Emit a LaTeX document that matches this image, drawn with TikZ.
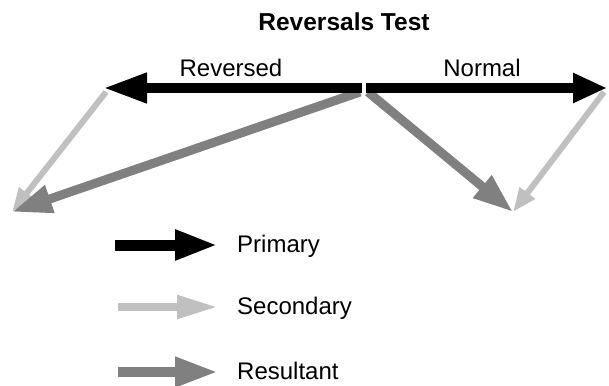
\documentclass[tikz,border=0pt]{standalone}
\usepackage{fontspec}
\setmainfont{Liberation Sans}
\usetikzlibrary{arrows.meta}
\definecolor{secgray}{HTML}{C0C0C0}
\definecolor{resgray}{HTML}{808080}
\tikzset{
  primarr/.style={draw=black, line width=10pt, -{Triangle[length=44pt,width=28pt]}},
  primarrn/.style={draw=black, line width=10pt, -{Triangle[length=34pt,width=28pt]}},
  secarr/.style={draw=secgray, line width=6pt, -{Triangle[length=24pt,width=18pt]}},
  resarr/.style={draw=resgray, line width=9pt, -{Triangle[length=40pt,width=27pt]}},
  legprim/.style={draw=black, line width=11pt, -{Triangle[length=43pt,width=28pt]}},
  legsec/.style={draw=secgray, line width=8pt, -{Triangle[length=41pt,width=22pt]}},
  legres/.style={draw=resgray, line width=10pt, -{Triangle[length=43pt,width=28pt]}},
  lbl/.style={inner sep=0pt, font=\fontsize{24pt}{28pt}\selectfont},
  ttl/.style={inner sep=0pt, font=\fontsize{24.5pt}{29pt}\selectfont\bfseries},
}
\begin{document}
\begin{tikzpicture}[x=1pt,y=-1pt]
\useasboundingbox (0,0) rectangle (609,385);
% coordinates
\coordinate (revstart) at (362,88);
\coordinate (revtip) at (103,88);
\coordinate (normstart) at (366,88);
\coordinate (normtip) at (607,88);
\coordinate (revsecstart) at (106,92);
\coordinate (revend) at (12,212);
\coordinate (revresstart) at (360,92);
\coordinate (normresstart) at (368,92);
\coordinate (normsecstart) at (604,92);
\coordinate (normend) at (513,212);
% title and labels
\node[ttl, anchor=base] (title) at (344,31) {Reversals Test};
\node[lbl, anchor=base] (reversed) at (231,77) {Reversed};
\node[lbl, anchor=base] (normal) at (482,77) {Normal};
% main arrows
\draw[secarr] (revsecstart) -- (revend);
\draw[resarr] (revresstart) -- (revend);
\draw[resarr] (normresstart) -- (normend);
\draw[secarr] (normsecstart) -- (normend);
\draw[primarr] (revstart) -- (revtip);
\draw[primarrn] (normstart) -- (normtip);
% legend
\coordinate (lp1) at (115,245);
\coordinate (lp2) at (218,245);
\coordinate (ls1) at (118,307);
\coordinate (ls2) at (218,307);
\coordinate (lr1) at (118,372);
\coordinate (lr2) at (218,372);
\draw[legprim] (lp1) -- (lp2);
\draw[legsec] (ls1) -- (ls2);
\draw[legres] (lr1) -- (lr2);
\node[lbl, anchor=west] (primary) at (237,246) {Primary};
\node[lbl, anchor=west] (secondary) at (237,308) {Secondary};
\node[lbl, anchor=west] (resultant) at (237,371) {Resultant};
\end{tikzpicture}
\end{document}
